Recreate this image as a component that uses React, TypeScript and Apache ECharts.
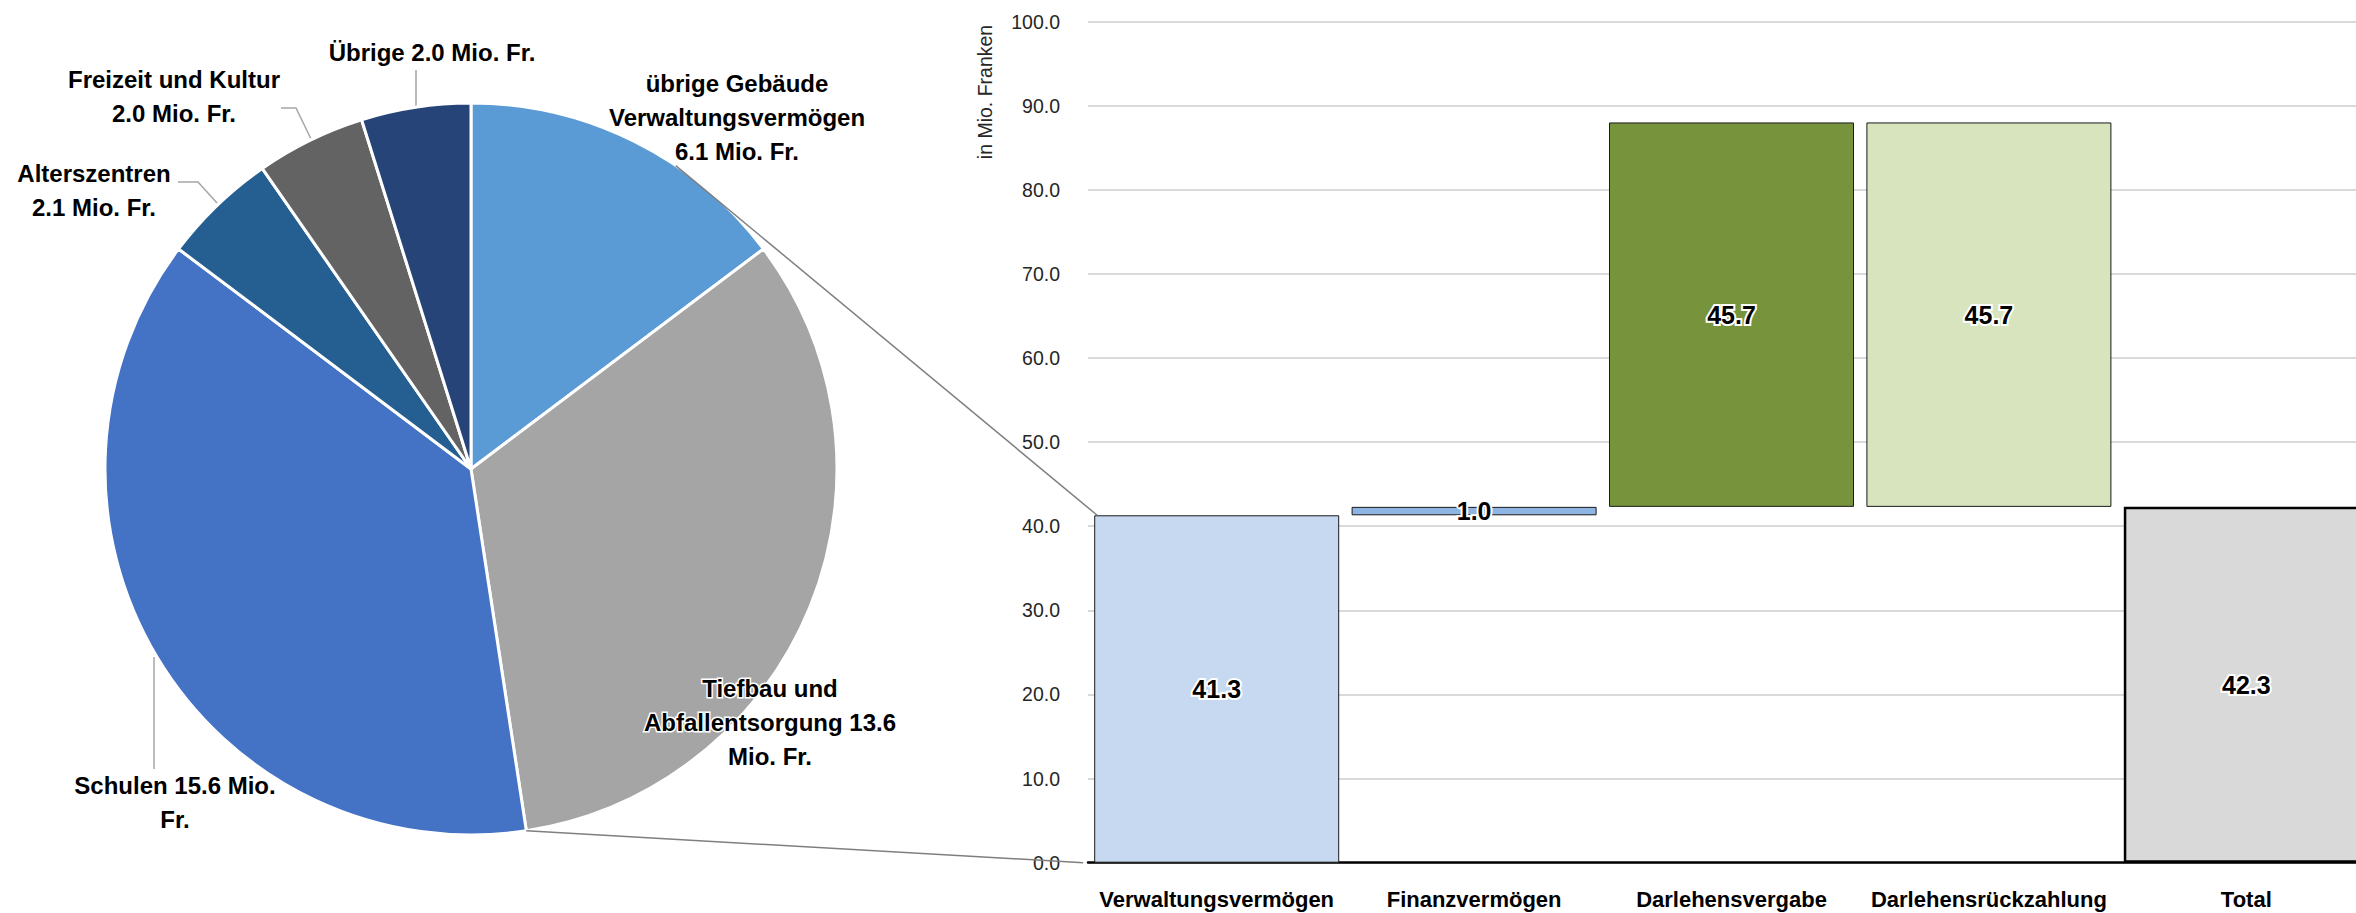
import React, { useEffect, useRef } from "react";
import * as echarts from "echarts";

// ---------- data ----------
const pieNames = [
  "übrige Gebäude Verwaltungsvermögen",
  "Tiefbau und Abfallentsorgung",
  "Schulen",
  "Alterszentren",
  "Freizeit und Kultur",
  "Übrige",
];
const pieValues = [6.1, 13.6, 15.6, 2.1, 2.0, 2.0];
const pieLabelTemplates = [
  "übrige Gebäude\nVerwaltungsvermögen\n# Mio. Fr.",
  "Tiefbau und\nAbfallentsorgung #\nMio. Fr.",
  "Schulen # Mio.\nFr.",
  "Alterszentren\n# Mio. Fr.",
  "Freizeit und Kultur\n# Mio. Fr.",
  "Übrige # Mio. Fr.",
];
const pieColors = ["#5B9BD5", "#A5A5A5", "#4472C4", "#255E91", "#636363", "#264478"];

const barCategories = [
  "Verwaltungsvermögen",
  "Finanzvermögen",
  "Darlehensvergabe",
  "Darlehensrückzahlung",
  "Total",
];
const barValues = [41.3, 1.0, 45.7, 45.7, 42.3];
const barBases = [0, 41.3, 42.3, 42.3, 0];
const barColors = ["#C6D9F1", "#8DB4E2", "#77933C", "#D7E4BD", "#D9D9D9"];
const yAxisTitle = "in Mio. Franken";
const yMin = 0;
const yMax = 100;
const yInterval = 10;

const FONT = '"Liberation Sans", Arial, sans-serif';

export default function App() {
  const ref = useRef<HTMLDivElement>(null);

  useEffect(() => {
    const chart = echarts.init(ref.current!, null, { renderer: "svg" });
    const pieCenter = [471, 469];
    const pieR = 366;
    const barW = 245;

    const labelPos = [
      [737, 117],
      [770, 722],
      [175, 802],
      [94, 190],
      [174, 96],
      [432, 52],
    ];
    const linePts: any[] = [
      null,
      null,
      [[154, 657], [154, 769]],
      [[217, 203], [198, 182], [178, 182]],
      [[311, 139], [296, 108], [281, 108]],
      [[416, 106], [416, 70]],
    ];

    chart.setOption({
      animation: false,
      backgroundColor: "#ffffff",
      grid: { left: 1088, right: 0, top: 21.5, bottom: 50.3, containLabel: false },
      xAxis: {
        type: "category",
        data: barCategories,
        axisLine: { show: true, lineStyle: { color: "#000", width: 2.5 } },
        axisTick: { show: false },
        axisLabel: {
          fontFamily: FONT,
          fontWeight: "bold",
          fontSize: 22,
          color: "#000",
          margin: 26,
          interval: 0,
        },
      },
      yAxis: {
        type: "value",
        min: yMin,
        max: yMax,
        interval: yInterval,
        axisLine: { show: false },
        axisTick: { show: false },
        axisLabel: {
          formatter: (v: number) => v.toFixed(1),
          fontFamily: FONT,
          fontSize: 19.5,
          color: "#262626",
          margin: 28,
        },
        splitLine: { lineStyle: { color: "#D9D9D9", width: 2 } },
      },
      series: [
        {
          type: "pie",
          center: pieCenter,
          radius: pieR,
          startAngle: 90,
          clockwise: true,
          avoidLabelOverlap: false,
          itemStyle: { borderColor: "#ffffff", borderWidth: 3 },
          label: {
            show: true,
            position: "outside",
            formatter: (p: any) =>
              pieLabelTemplates[p.dataIndex].replace("#", (p.value as number).toFixed(1)),
            fontFamily: FONT,
            fontWeight: "bold",
            fontSize: 24,
            lineHeight: 34,
            color: "#000",
            align: "center",
            textBorderColor: "#ffffff",
            textBorderWidth: 3,
          },
          labelLine: { show: true, lineStyle: { color: "#A6A6A6", width: 1.5 } },
          labelLayout: (params: any) => {
            const i = params.dataIndex;
            const o: any = {
              x: labelPos[i][0],
              y: labelPos[i][1],
              align: "center",
              verticalAlign: "middle",
            };
            if (linePts[i]) o.labelLinePoints = linePts[i];
            return o;
          },
          data: pieNames.map((n, i) => ({
            name: n,
            value: pieValues[i],
            itemStyle: { color: pieColors[i] },
            labelLine: { show: linePts[i] != null },
          })),
        },
        {
          type: "bar",
          stack: "w",
          barWidth: barW,
          silent: true,
          itemStyle: { color: "rgba(0,0,0,0)" },
          data: barBases,
        },
        {
          type: "bar",
          stack: "w",
          barWidth: barW,
          data: barValues.map((v, i) => ({
            value: v,
            itemStyle: {
              color: barColors[i],
              borderColor: i === 4 ? "#000" : "#1a1a1a",
              borderWidth: i === 4 ? 2.5 : 1,
            },
          })),
          label: {
            show: true,
            position: "inside",
            formatter: (p: any) => (p.value as number).toFixed(1),
            fontFamily: FONT,
            fontWeight: "bold",
            fontSize: 25,
            color: "#000",
            textBorderColor: "#ffffff",
            textBorderWidth: 4,
          },
        },
      ],
    });

    // connector lines between pie and first bar
    const total = pieValues.reduce((a, b) => a + b, 0);
    const endFrac = (pieValues[0] + pieValues[1]) / total;
    const ang2 = endFrac * 2 * Math.PI;
    const ang1 = (34 / 180) * Math.PI;
    const p1 = [pieCenter[0] + pieR * Math.sin(ang1), pieCenter[1] - pieR * Math.cos(ang1)];
    const p2 = [pieCenter[0] + pieR * Math.sin(ang2), pieCenter[1] - pieR * Math.cos(ang2)];
    const topPt = chart.convertToPixel({ xAxisIndex: 0, yAxisIndex: 0 }, [0, barBases[0] + barValues[0]]) as number[];
    const botPt = chart.convertToPixel({ xAxisIndex: 0, yAxisIndex: 0 }, [0, 0]) as number[];
    const barLeft = topPt[0] - barW / 2;

    chart.setOption({
      graphic: [
        {
          id: "ytitle",
          type: "text",
          x: 985,
          y: 92,
          rotation: Math.PI / 2,
          style: {
            text: yAxisTitle,
            fontFamily: FONT,
            fontSize: 19.5,
            fill: "#262626",
            align: "center",
            verticalAlign: "middle",
          },
        },
        {
          id: "conn1",
          type: "line",
          z: 100,
          shape: { x1: p1[0], y1: p1[1], x2: barLeft + 3, y2: topPt[1] },
          style: { stroke: "#7F7F7F", lineWidth: 1.5 },
        },
        {
          id: "conn2",
          type: "line",
          z: 100,
          shape: { x1: p2[0], y1: p2[1], x2: barLeft - 11, y2: botPt[1] },
          style: { stroke: "#7F7F7F", lineWidth: 1.5 },
        },
      ],
    });

    return () => chart.dispose();
  }, []);

  return (
    <div style={{ position: "fixed", left: 0, top: 0, width: 2356, height: 913, background: "#fff", overflow: "hidden" }}>
      <div ref={ref} style={{ width: 2375, height: 913 }} />
    </div>
  );
}
